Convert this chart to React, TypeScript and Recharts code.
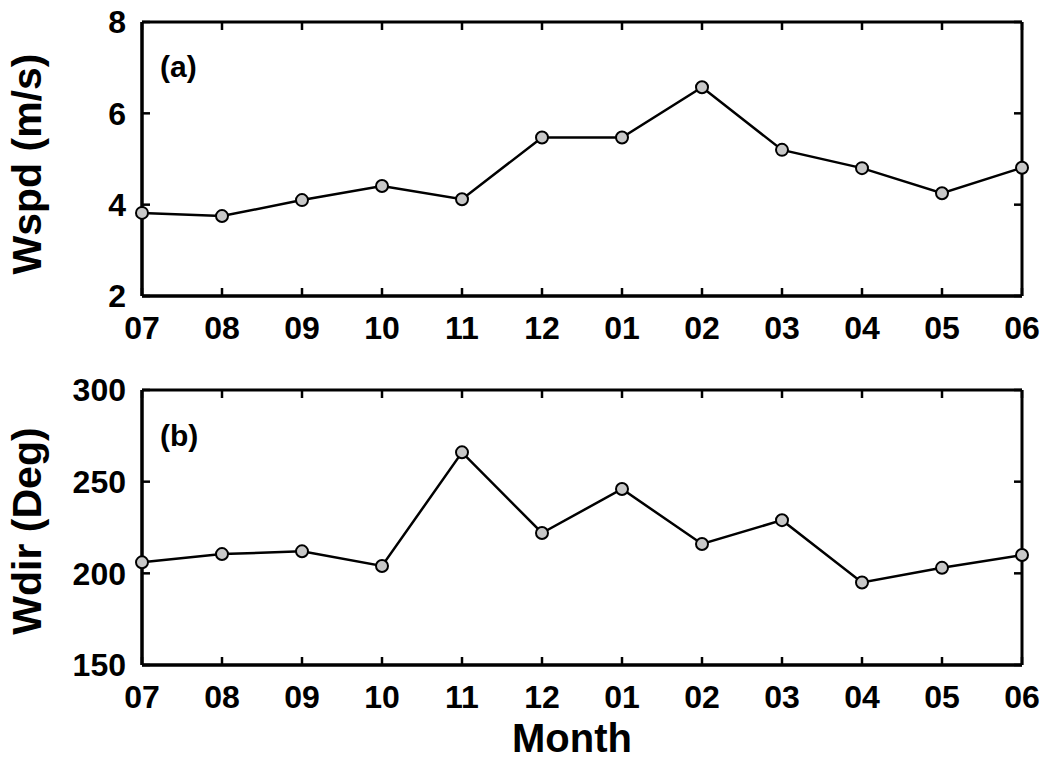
import { LineChart, Line, XAxis, YAxis } from 'recharts';

const MONTHS = ['07', '08', '09', '10', '11', '12', '01', '02', '03', '04', '05', '06'];
const WSPD = [3.82, 3.75, 4.1, 4.41, 4.12, 5.47, 5.47, 6.57, 5.2, 4.8, 4.25, 4.81];
const WDIR = [206, 210.5, 212, 204, 266, 222, 246, 216, 229, 195, 203, 210];
const WSPD_TICKS = [2, 4, 6, 8];
const WDIR_TICKS = [150, 200, 250, 300];
const X_TICKS = MONTHS.map((_, i) => i);

const data = MONTHS.map((m, i) => ({ idx: i, month: m, wspd: WSPD[i], wdir: WDIR[i] }));

const FONT = '"Liberation Sans", Arial, sans-serif';
const tickFont = { fill: '#000', fontSize: 32, fontWeight: 'bold', fontFamily: FONT };
const axisLine = { stroke: '#000', strokeWidth: 3 };
const tickLine = { stroke: '#000', strokeWidth: 2.5 };

const NoLabel = () => null;

interface PanelProps {
  dataKey: string;
  domain: [number, number];
  yTicks: number[];
  height: number;
  top: number;
  xAxisHeight: number;
}

function Panel({ dataKey, domain, yTicks, height, top, xAxisHeight }: PanelProps) {
  const xCommon = { type: 'number' as const, dataKey: 'idx', domain: [0, 11], ticks: X_TICKS, interval: 0 as const };
  const yCommon = { type: 'number' as const, domain, ticks: yTicks, interval: 0 as const };
  return (
    <LineChart width={1047} height={height} data={data} margin={{ top, right: 25, bottom: 0, left: 0 }}>
      {/* labelled axes, no tick marks */}
      <XAxis
        {...xCommon}
        height={xAxisHeight}
        tickFormatter={(v: number) => MONTHS[v]}
        tickLine={false}
        tickMargin={14}
        tick={tickFont}
        axisLine={axisLine}
      />
      <YAxis {...yCommon} width={142} tickLine={false} tickMargin={10} tick={tickFont} axisLine={axisLine} />
      {/* mirrored axes: inward ticks on all four sides of the box */}
      <XAxis xAxisId="bm" orientation="bottom" mirror {...xCommon} tick={NoLabel} tickSize={8} axisLine={axisLine} tickLine={tickLine} />
      <XAxis xAxisId="tm" orientation="top" mirror {...xCommon} tick={NoLabel} tickSize={8} axisLine={axisLine} tickLine={tickLine} />
      <YAxis yAxisId="lm" orientation="left" mirror {...yCommon} tick={NoLabel} tickSize={8} axisLine={axisLine} tickLine={tickLine} />
      <YAxis yAxisId="rm" orientation="right" mirror {...yCommon} tick={NoLabel} tickSize={8} axisLine={axisLine} tickLine={tickLine} />
      <Line xAxisId="bm" yAxisId="lm" dataKey={dataKey} stroke="none" dot={false} activeDot={false} isAnimationActive={false} />
      <Line xAxisId="tm" yAxisId="rm" dataKey={dataKey} stroke="none" dot={false} activeDot={false} isAnimationActive={false} />
      <Line
        type="linear"
        dataKey={dataKey}
        stroke="#000"
        strokeWidth={2.5}
        dot={{ r: 6, fill: '#c8c8c8', stroke: '#000', strokeWidth: 2 }}
        isAnimationActive={false}
      />
    </LineChart>
  );
}

export default function App() {
  return (
    <div style={{ position: 'absolute', left: 0, top: 0, width: 1047, height: 761, background: '#fff' }}>
      <div style={{ position: 'absolute', left: 0, top: 0 }}>
        <Panel dataKey="wspd" domain={[2, 8]} yTicks={WSPD_TICKS} height={345} top={22} xAxisHeight={49} />
      </div>
      <div style={{ position: 'absolute', left: 0, top: 345 }}>
        <Panel dataKey="wdir" domain={[150, 300]} yTicks={WDIR_TICKS} height={416} top={45} xAxisHeight={96} />
      </div>
      <svg
        width={1047}
        height={761}
        style={{ position: 'absolute', left: 0, top: 0, pointerEvents: 'none' }}
        fontFamily={FONT}
        fontWeight="bold"
      >
        <text x={160} y={77} fontSize={30}>(a)</text>
        <text x={160} y={446} fontSize={30}>(b)</text>
        <text x={41} y={164} fontSize={41} textAnchor="middle" transform="rotate(-90 41 164)">Wspd (m/s)</text>
        <text x={41} y={531} fontSize={41} textAnchor="middle" transform="rotate(-90 41 531)">Wdir (Deg)</text>
        <text x={572} y={752} fontSize={40} textAnchor="middle">Month</text>
      </svg>
    </div>
  );
}
